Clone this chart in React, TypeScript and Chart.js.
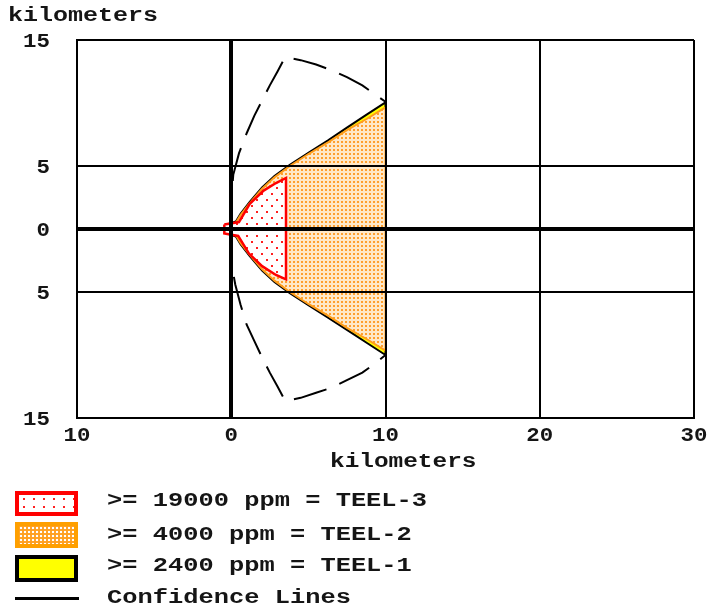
import React, { useEffect, useRef } from 'react';
import { Chart, registerables } from 'chart.js';
Chart.register(...registerables);

// ---- tick values and labels ----
const X_TICKS = [-10, 0, 10, 20, 30];
const X_TICK_LABELS = ['10', '0', '10', '20', '30'];
const Y_TICKS = [-15, -5, 0, 5, 15];
const Y_TICK_LABELS = ['15', '5', '0', '5', '15'];

// ---- threat zones (km) ----
const TEEL3_ZONE: [number, number][] = [
  [-0.45, 0.35], [0.5, 0.55], [1.2, 2.0], [2.1, 3.05], [2.9, 3.65], [3.55, 4.05],
  [3.55, -4.0], [2.9, -3.65], [2.0, -2.95], [1.15, -1.95], [0.45, -0.55], [-0.45, -0.35], [-0.45, 0.35],
];
const TEEL2_ZONE: [number, number][] = [
  [-0.3, 0.2], [0.3, 0.5], [0.6, 1.1], [1.2, 2.05], [2.0, 3.2], [2.8, 4.1], [3.8, 5.0],
  [5.0, 5.95], [6.3, 6.9], [7.5, 7.85], [8.8, 8.75], [10, 9.65],
  [10, -9.65], [8.8, -8.75], [7.5, -7.85], [6.3, -6.9], [5.0, -5.95], [3.8, -5.0], [2.8, -4.1],
  [2.0, -3.2], [1.2, -2.05], [0.6, -1.1], [0.3, -0.5], [-0.3, -0.2], [-0.3, 0.2],
];
const TEEL1_ZONE: [number, number][] = [
  [-0.4, 0.3], [0.3, 0.6], [0.6, 1.2], [1.2, 2.15], [2.0, 3.3], [2.8, 4.2], [3.8, 5.1],
  [5.0, 6.05], [6.3, 7.05], [7.5, 8.05], [8.8, 9.1], [10, 10.05],
  [10, -10.0], [8.8, -9.05], [7.5, -8.0], [6.3, -7.05], [5.0, -6.05], [3.8, -5.1], [2.8, -4.2],
  [2.0, -3.3], [1.2, -2.15], [0.6, -1.2], [0.3, -0.6], [-0.4, -0.3], [-0.4, 0.3],
];
// ---- confidence lines ----
const CONF_UPPER: [number, number][] = [
  [0, 0], [0.05, 3.0], [0.13, 4.3], [0.5, 6.0], [1.0, 7.6], [1.5, 9.0], [2.0, 10.2],
  [2.5, 11.4], [3.0, 12.5], [3.5, 13.65], [4.5, 13.4], [5.5, 13.05], [6.5, 12.6],
  [7.5, 12.05], [8.5, 11.4], [9.3, 10.7], [10, 10.1],
];
const CONF_LOWER: [number, number][] = [
  [0, 0], [0.05, -3.0], [0.26, -4.4], [0.6, -6.0], [1.0, -7.6], [1.5, -8.9], [2.0, -10.2],
  [2.5, -11.4], [3.0, -12.5], [3.5, -13.65], [4.5, -13.4], [5.5, -13.0], [6.5, -12.6],
  [7.5, -12.0], [8.5, -11.4], [9.3, -10.7], [10, -10.0],
];

const LEGEND_ITEMS = [
  { text: '>= 19000 ppm = TEEL-3', kind: 'red' },
  { text: '>= 4000 ppm = TEEL-2', kind: 'orange' },
  { text: '>= 2400 ppm = TEEL-1', kind: 'yellow' },
  { text: 'Confidence Lines', kind: 'line' },
];

const FONT = '"Liberation Mono", "Courier New", monospace';
const TICK_STRETCH = 1.12;

const toPts = (a: [number, number][]) => a.map(([x, y]) => ({ x, y }));

function makePattern(w: number, h: number, bg: string, dot: string, dots: [number, number][]) {
  const c = document.createElement('canvas');
  c.width = w; c.height = h;
  const g = c.getContext('2d')!;
  g.fillStyle = bg; g.fillRect(0, 0, w, h);
  g.fillStyle = dot;
  dots.forEach(([x, y]) => g.fillRect(x, y, 2, 2));
  return g.createPattern(c, 'repeat')!;
}

const tickPlugin = {
  id: 'stretchTicks',
  afterDraw(chart: any) {
    const ctx = chart.ctx;
    const xs = chart.scales.x, ys = chart.scales.y;
    ctx.save();
    ctx.font = `bold 20px ${FONT}`;
    ctx.fillStyle = '#151515';
    ctx.textBaseline = 'middle';
    X_TICKS.forEach((v, i) => {
      const lbl = X_TICK_LABELS[i];
      const w = ctx.measureText(lbl).width * TICK_STRETCH;
      ctx.save();
      ctx.translate(xs.getPixelForValue(v) - w / 2, ys.bottom + 18);
      ctx.scale(TICK_STRETCH, 1);
      ctx.fillText(lbl, 0, 0);
      ctx.restore();
    });
    Y_TICKS.forEach((v, i) => {
      const lbl = Y_TICK_LABELS[i];
      const w = ctx.measureText(lbl).width * TICK_STRETCH;
      ctx.save();
      ctx.translate(xs.left - 27 - w, ys.getPixelForValue(v) + 2);
      ctx.scale(TICK_STRETCH, 1);
      ctx.fillText(lbl, 0, 0);
      ctx.restore();
    });
    ctx.restore();
  },
};

const textStyle = (left: number, cy: number, stretch: number): React.CSSProperties => ({
  position: 'absolute', left, top: cy - 12, height: 24, lineHeight: '24px',
  fontFamily: FONT, fontWeight: 'bold', fontSize: 20, color: '#151515',
  whiteSpace: 'pre', transform: `scaleX(${stretch})`, transformOrigin: 'left center',
});

export default function App() {
  const ref = useRef<HTMLCanvasElement>(null);
  useEffect(() => {
    const redPat = makePattern(10, 12, '#ffffff', '#ff2020', [[1, 1], [6, 7]]);
    const orPat = makePattern(4, 4, '#ffe8c8', '#ff9f2e', [[1, 1]]);
    const gridW = (c: any) => (c.tick && c.tick.value === 0 ? 4 : 2);
    const chart = new Chart(ref.current!, {
      type: 'scatter',
      data: {
        datasets: [
          { data: toPts(CONF_UPPER), showLine: true, borderColor: '#000', borderWidth: 2, borderDash: [34, 14], pointRadius: 0, fill: false } as any,
          { data: toPts(CONF_LOWER), showLine: true, borderColor: '#000', borderWidth: 2, borderDash: [34, 14], pointRadius: 0, fill: false } as any,
          { data: toPts(TEEL3_ZONE), showLine: true, borderColor: '#ff0000', borderWidth: 2.5, backgroundColor: redPat, pointRadius: 0, fill: 'shape' } as any,
          { data: toPts(TEEL2_ZONE), showLine: true, borderColor: '#ff9d1a', borderWidth: 2, backgroundColor: orPat, pointRadius: 0, fill: 'shape' } as any,
          { data: toPts(TEEL1_ZONE), showLine: true, borderColor: '#000', borderWidth: 2, backgroundColor: '#ffff00', pointRadius: 0, fill: 'shape' } as any,
        ],
      },
      options: {
        animation: false,
        responsive: false,
        layout: { padding: { left: 77, right: 15, top: 40, bottom: 192 } },
        plugins: { legend: { display: false }, tooltip: { enabled: false } },
        scales: {
          x: {
            type: 'linear', min: -10, max: 30,
            afterBuildTicks: (s: any) => { s.ticks = X_TICKS.map((v) => ({ value: v })); },
            afterFit: (s: any) => { s.height = 0; },
            ticks: { display: false },
            grid: { color: '#000', lineWidth: gridW, drawTicks: false, z: 1 },
            border: { display: true, color: '#000', width: 2, z: 1 },
          },
          y: {
            type: 'linear', min: -15, max: 15,
            afterBuildTicks: (s: any) => { s.ticks = Y_TICKS.map((v) => ({ value: v })); },
            afterFit: (s: any) => { s.width = 0; },
            ticks: { display: false },
            grid: { color: '#000', lineWidth: gridW, drawTicks: false, z: 1 },
            border: { display: true, color: '#000', width: 2, z: 1 },
          },
        },
      } as any,
      plugins: [tickPlugin],
    });
    return () => chart.destroy();
  }, []);

  const boxBase: React.CSSProperties = { position: 'absolute', left: 15, width: 63, boxSizing: 'border-box', borderStyle: 'solid', borderWidth: 4 };
  const rows = [501, 535, 566, 598];
  return (
    <div style={{ position: 'absolute', left: 0, top: 0, width: 709, height: 610, background: '#fff', overflow: 'hidden' }}>
      <canvas ref={ref} width={709} height={610} style={{ position: 'absolute', left: 0, top: 0, width: 709, height: 610 }} />
      <div style={textStyle(8, 16, 1.25)}>kilometers</div>
      <div style={textStyle(330, 462, 1.22)}>kilometers</div>
      <div style={{ ...boxBase, top: 491, height: 25, borderColor: '#ff0000', backgroundColor: '#fff', backgroundImage: 'radial-gradient(circle, #ff2020 1px, transparent 1.5px)', backgroundSize: '10px 8px' }} />
      <div style={{ ...boxBase, top: 522, height: 26, borderColor: '#ffa000', backgroundColor: '#ffa020', backgroundImage: 'radial-gradient(circle, #fff 1.2px, transparent 1.6px)', backgroundSize: '4px 4px' }} />
      <div style={{ ...boxBase, top: 555, height: 27, borderColor: '#000', backgroundColor: '#ffff00' }} />
      <div style={{ position: 'absolute', left: 15, top: 597, width: 64, height: 3, background: '#000' }} />
      {LEGEND_ITEMS.map((it, i) => (
        <div key={it.kind} style={textStyle(107, rows[i], 1.27)}>{it.text}</div>
      ))}
    </div>
  );
}
